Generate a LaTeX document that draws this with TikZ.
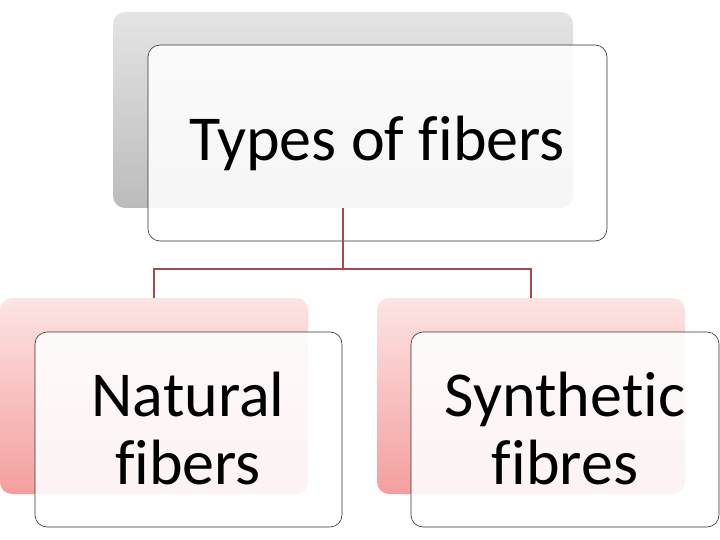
\documentclass[tikz,border=0pt]{standalone}
\usepackage{fontspec}
\setmainfont[Ligatures=NoCommon]{Carlito}
\usetikzlibrary{positioning}
\begin{document}
\begin{tikzpicture}[x=1pt,y=-1pt,
    backbox/.style={rounded corners=12pt},
    frontbox/.style={draw=black!80,fill=white,fill opacity=0.88,text opacity=1,rounded corners=12pt,line width=0.6pt},
    label/.style={font=\fontsize{64}{68}\selectfont,align=center,text=black},
    link/.style={draw={rgb,255:red,165;green,75;blue,75},line width=1.6pt}]
\definecolor{grey1}{RGB}{228,228,228}
\definecolor{grey2}{RGB}{188,188,188}
\definecolor{pink1}{RGB}{253,228,228}
\definecolor{pink2}{RGB}{244,158,158}
\useasboundingbox (0,0) rectangle (720,540);
% back panels
\shade[backbox,top color=grey1,bottom color=grey2] (113,12) rectangle (573,208);
\shade[backbox,top color=pink1,bottom color=pink2] (0,298) rectangle (308,494);
\shade[backbox,top color=pink1,bottom color=pink2] (377,298) rectangle (685,494);
% front panels
\node[frontbox,minimum width=459pt,minimum height=196pt] (types) at (377.5,143) {};
\node[frontbox,minimum width=307pt,minimum height=195pt] (natural) at (188.5,429.5) {};
\node[frontbox,minimum width=308pt,minimum height=195pt] (synthetic) at (565,429.5) {};
\node[label] at (377,143) {Types of fibers};
\node[label] at (188,429) {Natural\\fibers};
\node[label] at (565,429) {Synthetic\\fibres};
% connectors
\coordinate (split) at (343,269);
\draw[link] (343,208) -- (split);
\draw[link] (154,298) |- (split) -| (531,298);
\end{tikzpicture}
\end{document}
